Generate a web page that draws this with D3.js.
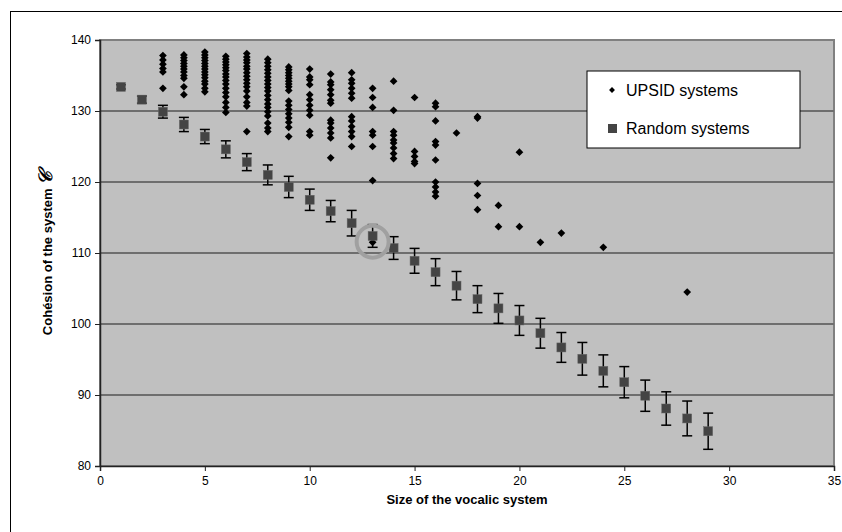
<!DOCTYPE html>
<html>
<head>
<meta charset="utf-8">
<script src="https://cdn.jsdelivr.net/npm/d3@7"></script>
<style>
  body { margin: 0; background: #fff; }
  svg { display: block; font-family: "Liberation Sans", Arial, sans-serif; }
</style>
</head>
<body>
<svg width="842" height="532"></svg>
<script>
// random systems: size, mean cohesion, error (half range)
var randSizes = [1,2,3,4,5,6,7,8,9,10,11,12,13,14,15,16,17,18,19,20,21,22,23,24,25,26,27,28,29];
var randMean = [133.4,131.6,129.9,128.1,126.4,124.6,122.8,121.0,119.3,117.5,115.9,114.2,112.4,110.7,108.9,107.3,105.4,103.5,102.2,100.5,98.7,96.7,95.1,93.4,91.8,89.9,88.1,86.7,84.9];
var randErr = [0.3,0.5,0.9,1.0,1.0,1.2,1.2,1.4,1.5,1.5,1.5,1.8,1.6,1.6,1.75,1.9,2.0,1.9,2.1,2.1,2.1,2.1,2.3,2.25,2.2,2.2,2.35,2.45,2.55];

// UPSID systems, grouped by size
var upsid = [
  [3, [137.8,137.2,136.6,136.0,135.5,133.2]],
  [4, [137.9,137.5,137.1,136.7,136.3,135.9,135.5,135.0,134.6,133.4,132.3]],
  [5, [138.3,137.9,137.5,137.1,136.7,136.3,135.9,135.5,135.1,134.7,134.2,133.8,133.2,132.7]],
  [6, [137.7,137.3,136.9,136.5,136.1,135.7,135.2,134.8,134.3,133.8,133.2,132.6,132.0,131.2,130.5,129.8]],
  [7, [138.1,137.6,137.2,136.8,136.3,135.9,135.4,134.9,134.4,133.9,133.4,132.8,132.0,131.2,130.7,127.1]],
  [8, [137.3,136.8,136.3,135.8,135.3,134.8,134.3,133.8,133.3,132.8,132.2,131.6,131.0,130.5,129.9,129.3,128.3,127.6,127.1]],
  [9, [136.2,135.8,135.4,135.0,134.6,134.2,133.8,133.4,132.9,131.4,130.8,130.2,129.6,129.0,128.4,127.7,126.4]],
  [10, [135.9,134.8,134.4,133.7,132.3,131.6,130.8,130.1,129.4,127.1,126.6]],
  [11, [135.2,134.1,133.7,133.0,132.3,131.5,131.1,128.7,128.3,127.6,126.9,126.2,123.4]],
  [12, [135.4,134.4,133.9,133.2,132.5,131.8,129.2,128.6,127.8,127.1,126.4,125.0]],
  [13, [133.2,131.9,130.5,127.1,126.6,125.0,120.2,111.5]],
  [14, [134.2,130.1,127.1,126.6,125.9,125.5,124.8,124.0,123.3]],
  [15, [131.9,124.3,123.6,122.9,122.6]],
  [16, [131.1,130.6,128.6,125.7,125.2,123.1,120.0,119.3,118.6,118.0]],
  [17, [126.9]],
  [18, [129.2,129.0,119.8,118.1,116.1]],
  [19, [116.7,113.7]],
  [20, [124.2,113.7]],
  [21, [111.5]],
  [22, [112.8]],
  [24, [110.8]],
  [28, [104.5]]
];

var xTicks = [0,5,10,15,20,25,30,35];
var yTicks = [80,90,100,110,120,130,140];
var highlight = [13, 111.6];

var svg = d3.select("svg"),
    margin = {top: 40, right: 8, bottom: 66, left: 100},
    width = 842 - margin.left - margin.right,
    height = 532 - margin.top - margin.bottom;

// outer frame
svg.append("rect")
    .attr("x", 10.5).attr("y", 11.5)
    .attr("width", 842).attr("height", 540)
    .attr("fill", "none").attr("stroke", "#000").attr("stroke-width", 1);

var g = svg.append("g").attr("transform", "translate(" + margin.left + "," + margin.top + ")");

var x = d3.scaleLinear().domain([0, 35]).range([0, width]);
var y = d3.scaleLinear().domain([80, 140]).range([height, 0]);

g.append("rect")
    .attr("width", width).attr("height", height)
    .attr("fill", "#c0c0c0")
    .attr("stroke", "#808080").attr("stroke-width", 2);

g.append("g")
    .selectAll("line")
    .data(yTicks.slice(1, -1))
    .enter().append("line")
    .attr("x1", 0).attr("x2", width)
    .attr("y1", function(d) { return y(d); })
    .attr("y2", function(d) { return y(d); })
    .attr("stroke", "#6e6e6e").attr("stroke-width", 2);

var xAxis = g.append("g")
    .attr("transform", "translate(0," + height + ")")
    .call(d3.axisBottom(x).tickValues(xTicks).tickSize(5).tickPadding(5));
var yAxis = g.append("g")
    .call(d3.axisLeft(y).tickValues(yTicks).tickSize(5).tickPadding(4));

[xAxis, yAxis].forEach(function(a) {
    a.select(".domain").attr("stroke", "#222").attr("stroke-width", 1.5);
    a.selectAll(".tick line").attr("stroke", "#222");
    a.selectAll(".tick text")
        .attr("font-family", "Liberation Sans, Arial, sans-serif")
        .attr("font-size", 12).attr("fill", "#000");
});

// error bars for random systems
var rand = randSizes.map(function(s, i) { return {s: s, m: randMean[i], e: randErr[i]}; });

var eb = g.append("g").attr("stroke", "#000").attr("stroke-width", 1.5);
eb.selectAll(".v").data(rand).enter().append("line")
    .attr("x1", function(d) { return x(d.s); }).attr("x2", function(d) { return x(d.s); })
    .attr("y1", function(d) { return y(d.m + d.e); }).attr("y2", function(d) { return y(d.m - d.e); });
eb.selectAll(".t").data(rand).enter().append("line")
    .attr("x1", function(d) { return x(d.s) - 5; }).attr("x2", function(d) { return x(d.s) + 5; })
    .attr("y1", function(d) { return y(d.m + d.e); }).attr("y2", function(d) { return y(d.m + d.e); });
eb.selectAll(".b").data(rand).enter().append("line")
    .attr("x1", function(d) { return x(d.s) - 5; }).attr("x2", function(d) { return x(d.s) + 5; })
    .attr("y1", function(d) { return y(d.m - d.e); }).attr("y2", function(d) { return y(d.m - d.e); });

// UPSID diamonds
var pts = [];
upsid.forEach(function(r) { r[1].forEach(function(v) { pts.push({s: r[0], v: v}); }); });

var diamond = d3.symbol().type(d3.symbolDiamond2).size(38);
g.append("g")
    .selectAll("path")
    .data(pts)
    .enter().append("path")
    .attr("d", diamond)
    .attr("transform", function(d) { return "translate(" + x(d.s) + "," + y(d.v) + ")"; })
    .attr("fill", "#000");

// random squares
g.append("g")
    .selectAll("rect")
    .data(rand)
    .enter().append("rect")
    .attr("x", function(d) { return x(d.s) - 4.5; })
    .attr("y", function(d) { return y(d.m) - 4.5; })
    .attr("width", 9).attr("height", 9)
    .attr("fill", "#444").attr("stroke", "#666").attr("stroke-width", 0.5);

// highlight ring
g.append("circle")
    .attr("cx", x(highlight[0])).attr("cy", y(highlight[1]))
    .attr("r", 16)
    .attr("fill", "none").attr("stroke", "#a0a0a0").attr("stroke-width", 4);

// legend
var legend = svg.append("g").attr("transform", "translate(587,71)");
legend.append("rect")
    .attr("width", 213).attr("height", 77)
    .attr("fill", "#fff").attr("stroke", "#000").attr("stroke-width", 1);
legend.append("path")
    .attr("d", d3.symbol().type(d3.symbolDiamond2).size(22))
    .attr("transform", "translate(25,19)");
legend.append("rect")
    .attr("x", 21).attr("y", 53).attr("width", 9).attr("height", 9)
    .attr("fill", "#444");
legend.append("text").attr("x", 39).attr("y", 25).attr("font-size", 16).text("UPSID systems");
legend.append("text").attr("x", 39).attr("y", 63).attr("font-size", 16).text("Random systems");

// axis titles
svg.append("text")
    .attr("x", margin.left + width / 2).attr("y", 504)
    .attr("text-anchor", "middle")
    .attr("font-size", 13).attr("font-weight", "bold")
    .text("Size of the vocalic system");

var yt = svg.append("text")
    .attr("transform", "translate(52," + (margin.top + height / 2) + ") rotate(-90)")
    .attr("text-anchor", "middle")
    .attr("font-size", 13).attr("font-weight", "bold");
yt.append("tspan").text("Cohésion of the system ");
yt.append("tspan")
    .attr("font-family", "DejaVu Serif, serif")
    .attr("font-style", "italic").attr("font-size", 19)
    .text("\u{1D49E}");
</script>
</body>
</html>
